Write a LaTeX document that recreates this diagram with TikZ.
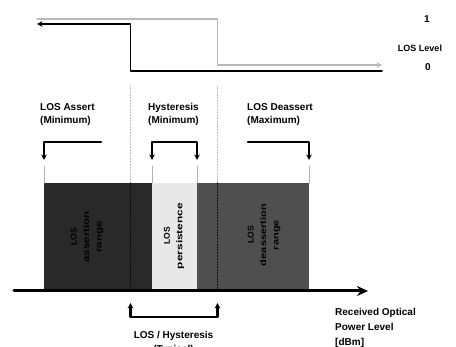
\documentclass[tikz,border=0pt]{standalone}
\usepackage{fontspec}
\setmainfont{Liberation Sans}
\usetikzlibrary{arrows.meta}
\begin{document}
\begin{tikzpicture}[x=1pt, y=-1pt, line join=round, line cap=round, >={Stealth[length=5.5pt,width=5.5pt]},
	lbl/.style={inner sep=0pt, font=\fontsize{10}{13}\selectfont\bfseries},
	band/.style={rotate=90, align=center, inner sep=0pt, font=\fontsize{8.5}{12.5}\selectfont\bfseries},
	brace/.style={line width=2.3pt},
	guide/.style={gray!60, line width=0.8pt},
	sep/.style={dotted, line width=0.9pt}]
	\useasboundingbox (0,0) rectangle (456,347);
	% zones
	\fill[black!84] (44,183) rectangle (152,290);
	\fill[black!9] (152,183) rectangle (197,290);
	\fill[black!69] (197,183) rectangle (309,290);
	\node[band] (zassert) at (87,237) {LOS\\\scalebox{1.35}[1]{assertion}\\\scalebox{1.35}[1]{range}};
	\node[band] (zpersist) at (174,236) {LOS\\\scalebox{1.4}[1]{persistence}};
	\node[band] (zdeassert) at (264,235) {LOS\\\scalebox{1.3}[1]{deassertion}\\\scalebox{1.3}[1]{range}};
	% dotted separators
	\draw[sep, gray!60] (130.5,86) -- (130.5,183);
	\draw[sep, gray!60] (217.5,86) -- (217.5,183);
	\draw[sep, black] (130.5,183) -- (130.5,289);
	\draw[sep, black] (217.5,183) -- (217.5,289);
	\foreach \x in {44,152,197,309}
		\draw[guide] (\x,166) -- (\x,183);
	% LOS level
	\coordinate (g0) at (37,19); \coordinate (g1) at (217.5,19);
	\coordinate (g2) at (217.5,65); \coordinate (g3) at (382,65);
	\draw[gray!55, line width=1.4pt, ->] (g0) -- (g1) -- (g2) -- (g3);
	\coordinate (k0) at (382,71); \coordinate (k1) at (130.5,71);
	\coordinate (k2) at (130.5,24); \coordinate (k3) at (37,24);
	\draw[line width=1.5pt, ->] (k0) -- (k1) -- (k2) -- (k3);
	\node[lbl] (one) at (427,19) {1};
	\node[lbl, font=\fontsize{9}{11}\selectfont\bfseries] (level) at (420,48) {LOS Level};
	\node[lbl] (zero) at (428,67) {0};
	% labels
	\node[lbl, anchor=north west, align=left] (assert) at (40,103) {LOS Assert\\(Minimum)};
	\node[lbl, anchor=north, align=center] (hyst) at (173.5,103) {Hysteresis\\(Minimum)};
	\node[lbl, anchor=north west, align=left] (deassert) at (247,103) {LOS Deassert\\(Maximum)};
	% brackets
	\coordinate (a1) at (101,142); \coordinate (a2) at (44,142); \coordinate (a3) at (44,160);
	\draw[brace, ->] (a1) -- (a2) -- (a3);
	\coordinate (h1) at (152,160); \coordinate (h2) at (152,142);
	\coordinate (h3) at (197,142); \coordinate (h4) at (197,160);
	\draw[brace, <->] (h1) -- (h2) -- (h3) -- (h4);
	\coordinate (d1) at (248,142); \coordinate (d2) at (309,142); \coordinate (d3) at (309,160);
	\draw[brace, ->] (d1) -- (d2) -- (d3);
	% power axis
	\coordinate (ax0) at (14,291); \coordinate (ax1) at (368,291);
	\draw[line width=3pt, -{Stealth[length=11pt,width=10pt]}] (ax0) -- (ax1);
	\node[lbl, anchor=north west, align=left, font=\fontsize{10}{15}\selectfont\bfseries] (power) at (335,308) {Received Optical\\Power Level\\{[dBm]}};
	\coordinate (t1) at (130.5,303); \coordinate (t2) at (130.5,317);
	\coordinate (t3) at (217.5,317); \coordinate (t4) at (217.5,303);
	\draw[brace, <->] (t1) -- (t2) -- (t3) -- (t4);
	\node[lbl, anchor=north, align=center, font=\fontsize{10}{14}\selectfont\bfseries] (typ) at (173.5,331) {LOS / Hysteresis\\(Typical)};
\end{tikzpicture}
\end{document}
